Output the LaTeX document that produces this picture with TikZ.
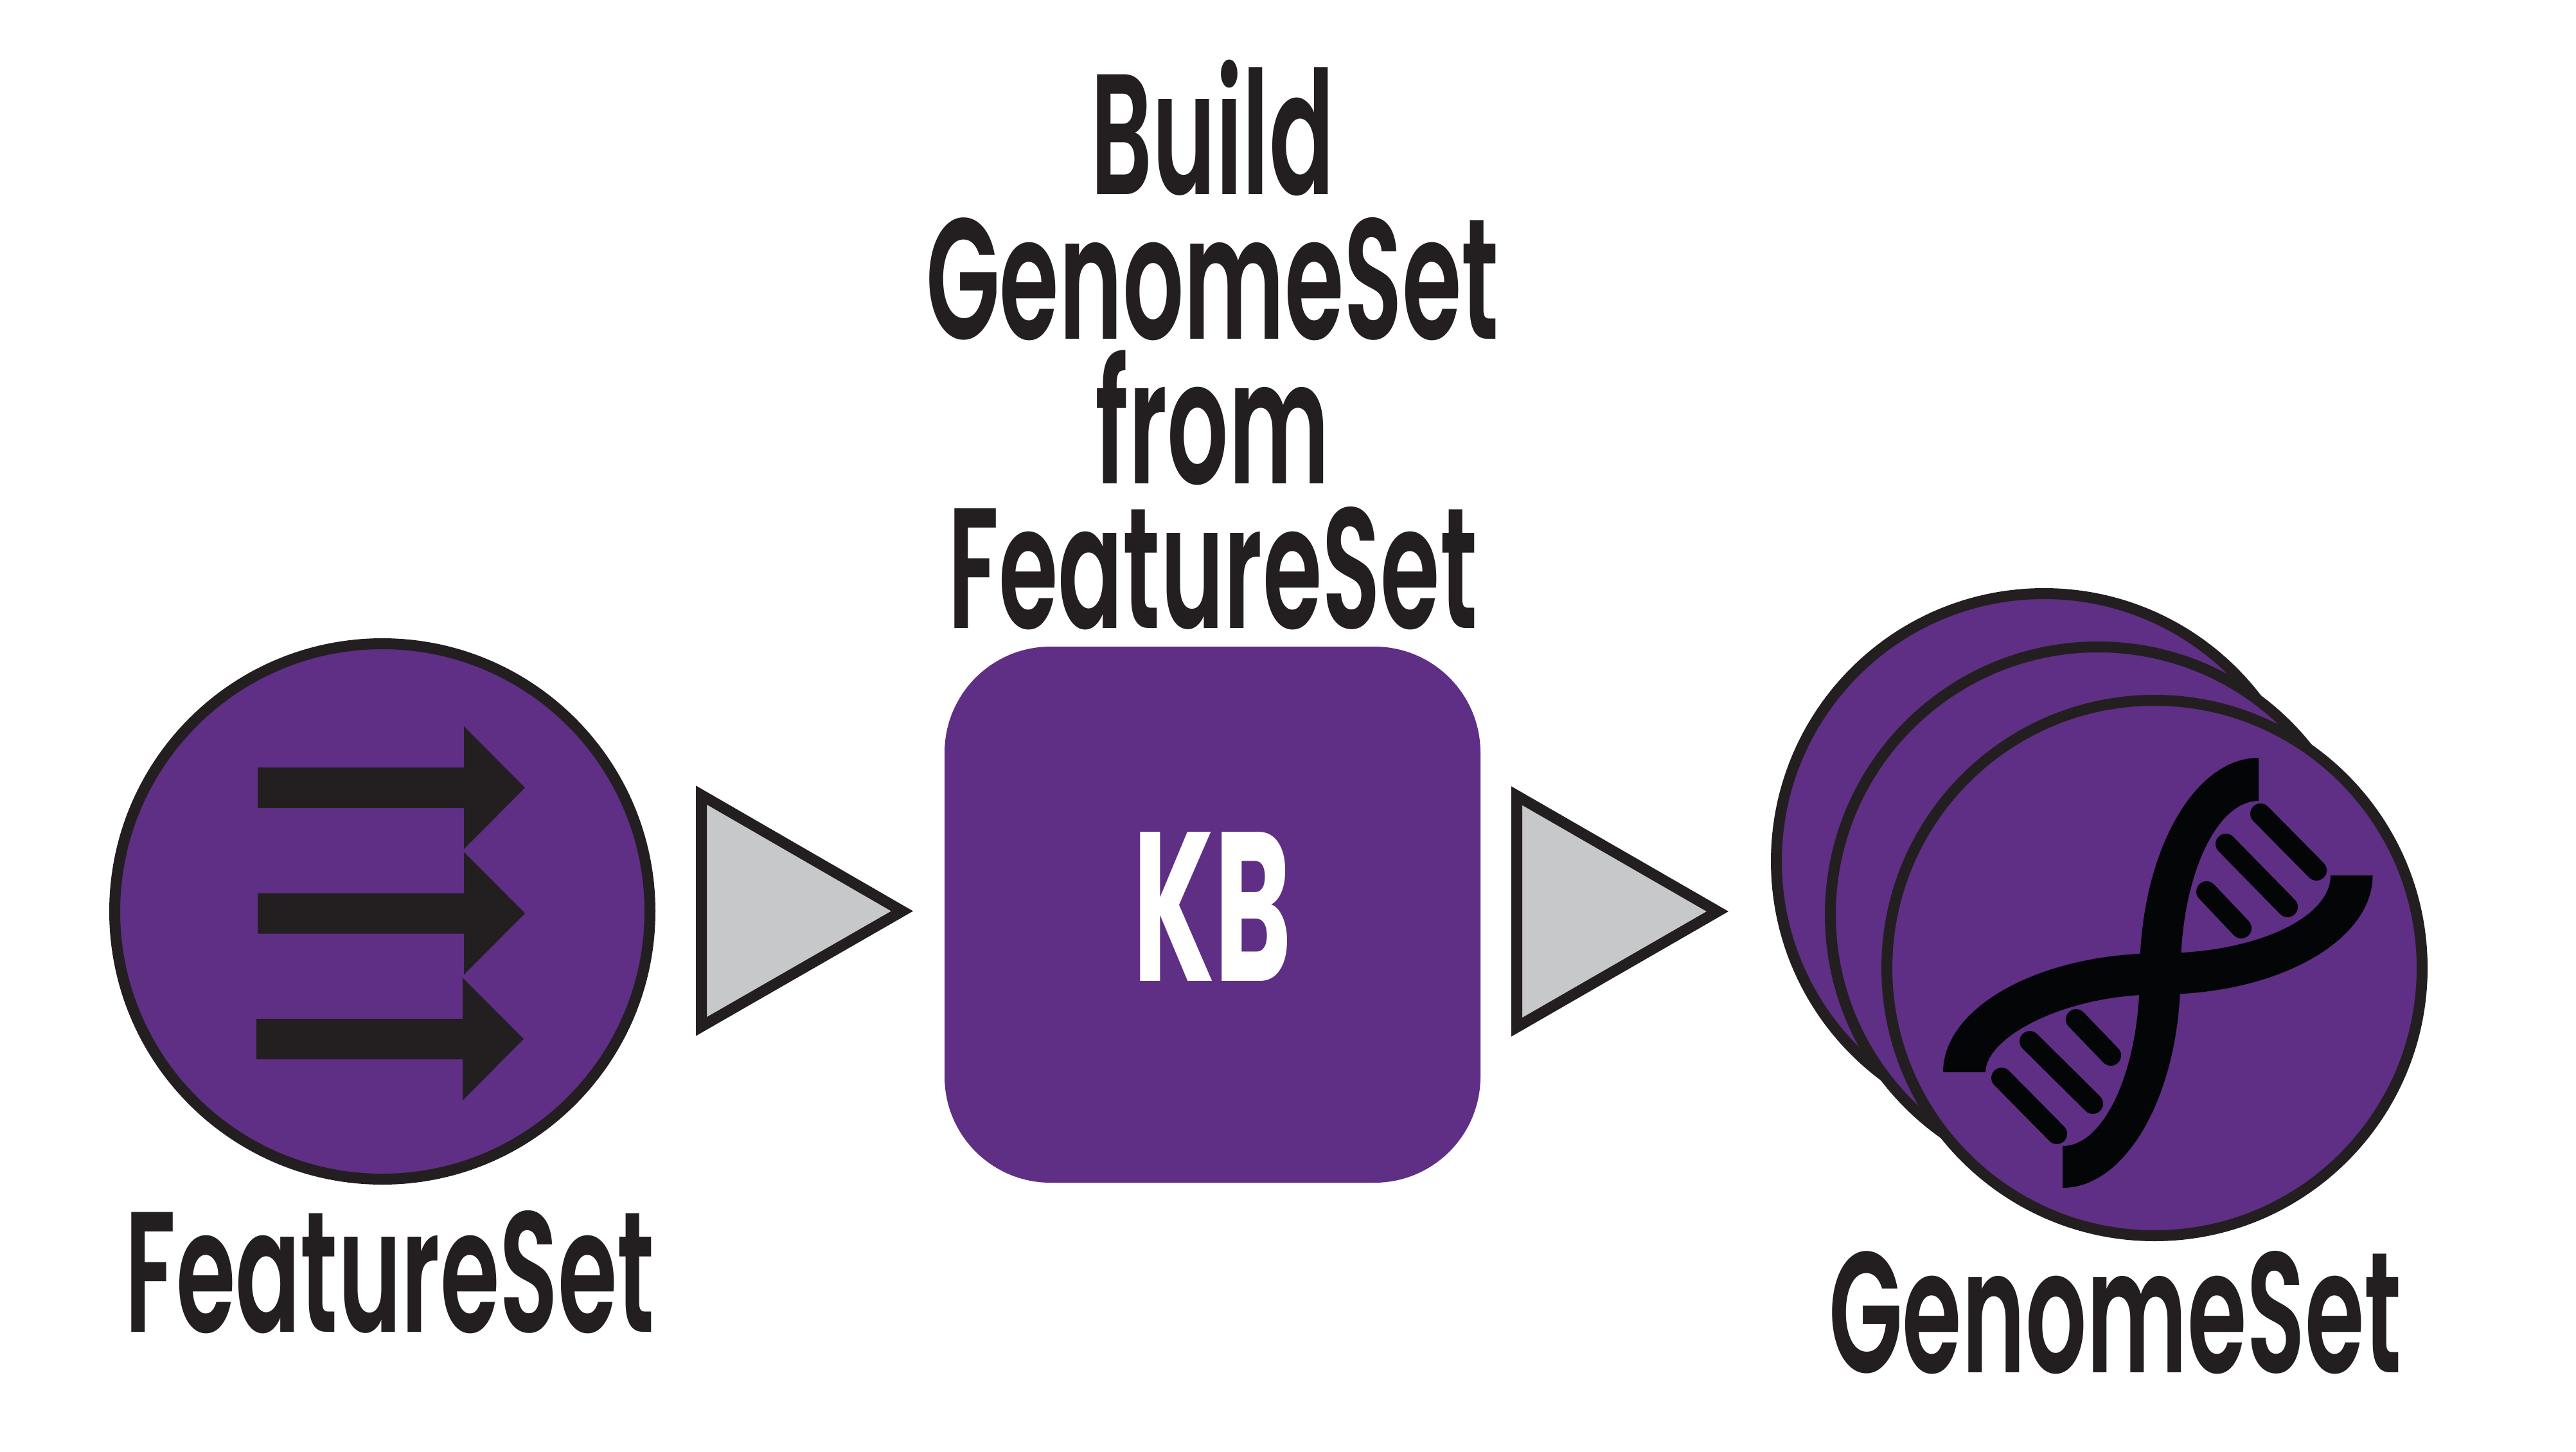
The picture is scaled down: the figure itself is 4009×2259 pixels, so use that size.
\documentclass[tikz,border=0pt]{standalone}
\usepackage{fontspec}
\usetikzlibrary{positioning}
\newfontfamily\labelfont[FakeStretch=0.56]{Poppins SemiBold}
\newfontfamily\boxfont[FakeStretch=0.55]{Poppins}
\definecolor{kbpurple}{HTML}{5F2E85}
\definecolor{kbline}{HTML}{231F20}
\definecolor{kbgray}{HTML}{C7C8CA}
\definecolor{dnablack}{HTML}{040506}
\tikzset{
    disc/.style={
           circle,
           draw=kbline,
           fill=kbpurple,
           line width=1.7mm,
           minimum size=83.3mm,
           inner sep=0pt,
           },
    flowtri/.style={draw=kbline,fill=kbgray,line width=1.7mm},
    tag/.style={
           anchor=base,
           text=kbline,
           inner sep=0pt,
           font=\labelfont\fontsize{76}{64}\selectfont,
           },
    rung/.style={draw=dnablack,line width=3.2mm,line cap=round},
}
\begin{document}
\begin{tikzpicture}[x=0.1mm,y=-0.1mm]
\useasboundingbox (0,0) rectangle (4009,2259);

% input
\node[disc](featuredisc) at (595,1418){};
\foreach \ax/\ay in {401/1225.5,401/1421,399/1616.5}
  \fill[kbline] (\ax,\ay-31.5) -- ++(321,0) -- ++(0,-64) -- ++(95,95.5) -- ++(-95,95.5)
                -- ++(0,-64) -- ++(-321,0) -- cycle;
\node[tag](featuretag) at (607,2072){FeatureSet};

% method
\node[tag,align=center](buildtag) at (1887,977){Build\\GenomeSet\\from\\FeatureSet};
\node[fill=kbpurple,rounded corners=16.5mm,minimum size=83.4mm,inner sep=0pt](kbbox) at (1887,1423){};
\node[tag,text=white,font=\boxfont\bfseries\fontsize{94}{94}\selectfont](kbtag) at (1887,1526){KB};

% flow triangles
\draw[flowtri] (1091.5,1237) -- (1404,1417.5) -- (1091.5,1597) -- cycle;
\draw[flowtri] (2360.5,1238) -- (2673,1418) -- (2360.5,1598) -- cycle;

% output
\node[disc](genomedisca) at (3181,1340){};
\node[disc](genomediscb) at (3265,1423){};
\node[disc](genomediscc) at (3353,1506){};
\fill[dnablack] (3515,1179) .. controls (3413,1179) and (3330,1330) .. (3330,1515)
      .. controls (3330,1662) and (3276,1783) .. (3210,1783) -- (3210,1848)
      .. controls (3311,1848) and (3393.5,1698) .. (3393.5,1515)
      .. controls (3393.5,1367) and (3448,1246) .. (3515,1246) -- cycle;
\fill[dnablack] (3024,1668) .. controls (3024,1566) and (3176,1483) .. (3362,1483)
      .. controls (3508,1483) and (3627,1429) .. (3627,1362) -- (3692.5,1362)
      .. controls (3692.5,1464) and (3544,1547) .. (3362,1547)
      .. controls (3212,1547) and (3090,1614) .. (3090,1668) -- cycle;
\foreach \xa/\ya/\xb/\yb in {3518/1266/3605/1354,3464/1313/3560/1411,3434/1387/3488/1444,
                             3231/1586/3285/1642,3159/1620/3257/1717,3115/1677/3201/1764}
  \draw[rung] (\xa,\ya) -- (\xb,\yb);
\node[tag](genometag) at (3292,2135){GenomeSet};
\end{tikzpicture}
\end{document}
